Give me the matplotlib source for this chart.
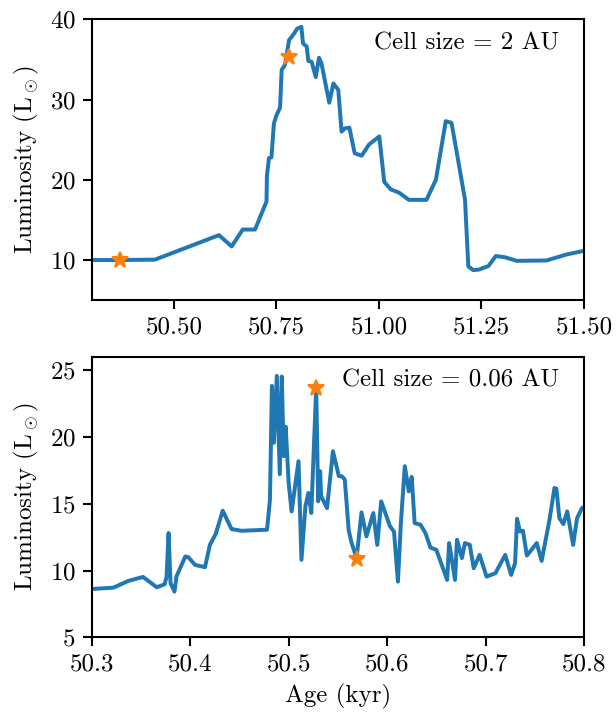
import numpy as np
import matplotlib
matplotlib.use("Agg")
import matplotlib.pyplot as plt

# luminosity curves (age in kyr, L in Lsun)
coarse_age = [50.300, 50.368, 50.454, 50.610, 50.641, 50.668, 50.698, 50.726, 50.727,
              50.732, 50.738, 50.744, 50.750, 50.759, 50.763, 50.771, 50.781, 50.793,
              50.801, 50.811, 50.815, 50.824, 50.828, 50.836, 50.846, 50.854, 50.860,
              50.879, 50.889, 50.901, 50.909, 50.917, 50.928, 50.941, 50.958, 50.976,
              51.001, 51.013, 51.029, 51.049, 51.073, 51.116, 51.139, 51.163, 51.177,
              51.193, 51.210, 51.218, 51.230, 51.243, 51.267, 51.285, 51.307, 51.336,
              51.409, 51.458, 51.500]
coarse_lum = [10.0, 10.0, 10.05, 13.1, 11.7, 13.8, 13.8, 17.3, 20.5,
              22.7, 22.8, 27.0, 28.0, 29.0, 33.7, 34.3, 37.4, 38.2,
              38.85, 39.05, 37.0, 36.6, 34.8, 34.7, 32.8, 35.2, 34.5,
              29.6, 32.0, 31.2, 26.0, 26.4, 26.5, 23.3, 23.0, 24.4,
              25.4, 19.75, 18.8, 18.4, 17.5, 17.5, 20.0, 27.3, 27.1,
              22.5, 17.5, 9.2, 8.75, 8.8, 9.25, 10.5, 10.35, 9.9,
              9.95, 10.7, 11.15]
coarse_star_age = [50.368, 50.780]
coarse_star_lum = [10.0, 35.3]

fine_age = [50.300, 50.322, 50.337, 50.352, 50.366, 50.374, 50.376, 50.378, 50.380,
            50.384, 50.386, 50.395, 50.398, 50.405, 50.415, 50.420, 50.426, 50.433,
            50.442, 50.452, 50.471, 50.478, 50.481, 50.483, 50.485, 50.488, 50.491,
            50.493, 50.495, 50.497, 50.500, 50.503, 50.510, 50.513, 50.517, 50.520,
            50.523, 50.528, 50.530, 50.532, 50.533, 50.539, 50.545, 50.551, 50.554,
            50.557, 50.561, 50.564, 50.569, 50.574, 50.579, 50.586, 50.590, 50.594,
            50.603, 50.607, 50.611, 50.614, 50.618, 50.622, 50.625, 50.628, 50.634,
            50.639, 50.644, 50.650, 50.661, 50.663, 50.665, 50.669, 50.671, 50.676,
            50.679, 50.684, 50.688, 50.694, 50.701, 50.710, 50.720, 50.726, 50.730,
            50.732, 50.735, 50.738, 50.742, 50.752, 50.757, 50.765, 50.770, 50.772,
            50.775, 50.779, 50.783, 50.789, 50.793, 50.798, 50.801]
fine_lum = [8.62, 8.72, 9.22, 9.52, 8.75, 8.97, 9.55, 12.8, 9.05,
            8.42, 9.55, 11.05, 11.0, 10.42, 10.25, 11.92, 12.75, 14.47,
            13.1, 12.97, 13.03, 13.05, 15.3, 23.8, 19.55, 24.55, 17.2,
            24.5, 18.55, 20.75, 16.55, 14.42, 18.17, 10.8, 14.8, 15.8,
            14.3, 23.68, 15.17, 17.42, 15.55, 14.67, 18.92, 17.05, 17.05,
            16.8, 13.0, 12.05, 10.93, 14.35, 12.55, 14.3, 11.92, 15.17,
            13.3, 12.92, 9.17, 13.55, 17.8, 15.92, 17.0, 13.55, 13.42,
            12.8, 11.72, 11.55, 9.3, 12.05, 11.17, 9.3, 12.3, 10.93,
            12.05, 11.92, 10.17, 11.17, 9.55, 9.8, 11.17, 9.67, 10.55,
            13.87, 12.92, 12.97, 11.12, 12.05, 10.72, 13.8, 16.17, 16.12,
            13.92, 13.47, 14.42, 11.92, 13.92, 14.67, 14.8]
fine_star_age = [50.528, 50.569]
fine_star_lum = [23.68, 10.85]

plt.rcParams["font.family"] = "serif"
plt.rcParams["font.serif"] = ["cmr10"]
plt.rcParams["mathtext.fontset"] = "cm"
plt.rcParams["axes.formatter.use_mathtext"] = True
plt.rcParams["font.size"] = 12
plt.rcParams["axes.unicode_minus"] = False
plt.rcParams["axes.linewidth"] = 1.0
plt.rcParams["xtick.major.size"] = 4.2
plt.rcParams["ytick.major.size"] = 4.2
plt.rcParams["xtick.major.width"] = 1.0
plt.rcParams["ytick.major.width"] = 1.0

fig = plt.figure(figsize=(616 / 150, 713 / 150), dpi=150)
ax1 = fig.add_axes([0.149, 0.579, 0.799, 0.394])
ax2 = fig.add_axes([0.149, 0.106, 0.799, 0.394])

ax1.plot(coarse_age, coarse_lum, color="C0", lw=1.9)
ax1.plot(coarse_star_age, coarse_star_lum, "*", color="C1", ms=8, ls="none")
ax1.set_xlim(50.3, 51.5)
ax1.set_ylim(5, 40)
ax1.set_xticks([50.50, 50.75, 51.00, 51.25, 51.50])
ax1.set_xticklabels(["50.50", "50.75", "51.00", "51.25", "51.50"])
ax1.set_yticks([10, 20, 30, 40])
ax1.set_ylabel(r"Luminosity (L$_\odot$)")
ax1.text(0.95, 0.915, "Cell size = 2 AU", transform=ax1.transAxes,
         ha="right", va="center")

ax2.plot(fine_age, fine_lum, color="C0", lw=1.9)
ax2.plot(fine_star_age, fine_star_lum, "*", color="C1", ms=8, ls="none")
ax2.set_xlim(50.3, 50.8)
ax2.set_ylim(5, 26)
ax2.set_xticks([50.3, 50.4, 50.5, 50.6, 50.7, 50.8])
ax2.set_xticklabels(["50.3", "50.4", "50.5", "50.6", "50.7", "50.8"])
ax2.set_yticks([5, 10, 15, 20, 25])
ax2.set_ylabel(r"Luminosity (L$_\odot$)")
ax2.set_xlabel("Age (kyr)")
ax2.text(0.95, 0.915, "Cell size = 0.06 AU", transform=ax2.transAxes,
         ha="right", va="center")

fig.savefig("out.png", dpi=150)
